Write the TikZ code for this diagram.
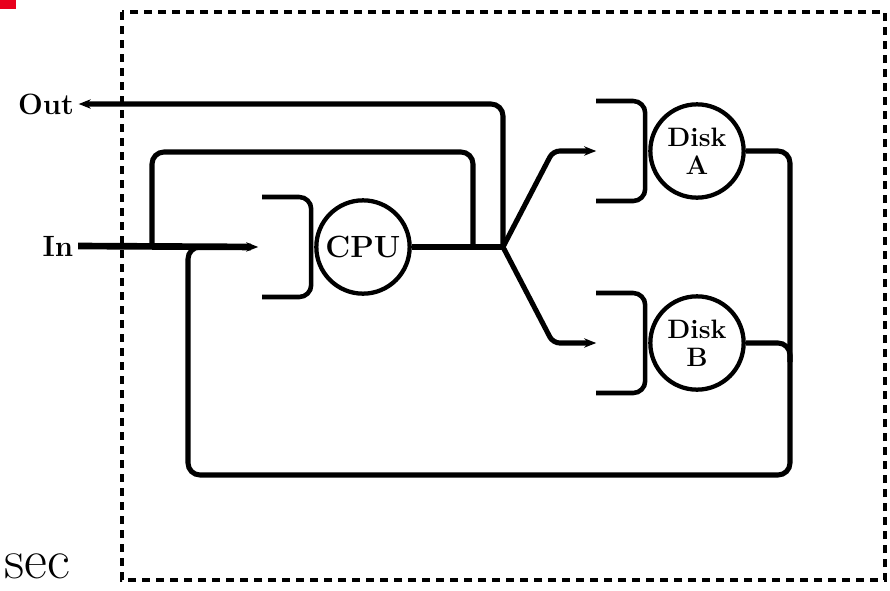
\documentclass[tikz,border=0pt]{standalone}
\usetikzlibrary{positioning,arrows.meta,calc}
\definecolor{slidered}{HTML}{E8001C}
\newcommand{\qbracket}[1]{%
  \draw[queue] ($(#1.west)+(-52,-50)$) -- ++(49,0) -- ++(0,100) -- ++(-49,0);}
\begin{document}
\begin{tikzpicture}[x=0.75pt, y=-0.75pt,
    every node/.style={font=\fontsize{22}{24}\selectfont\bfseries},
    server/.style={draw, circle, line width=3.2pt, minimum size=70pt,
                   inner sep=0pt, align=center,
                   font=\fontsize{20}{21}\selectfont\bfseries},
    queue/.style={line width=3.4pt, rounded corners=9pt},
    link/.style={line width=3.8pt, rounded corners=9pt},
    main/.style={line width=5pt},
    flow/.style={link, -{Stealth[length=9pt,width=7pt]}}]
  \useasboundingbox (0,0) rectangle (890,590);
  % slide leftovers
  \fill[slidered] (0,0) rectangle (16,9);
  \node[font=\fontsize{42}{42}\selectfont, anchor=base west, inner sep=0pt] (sec) at (4,578) {sec};
  % system boundary
  \draw[line width=3pt, dash pattern=on 6pt off 4.5pt] (122,12) rectangle (885,580);
  % terminals
  \node (out) at (46,104) {Out};
  \node (in) at (58,246) {In};
  % servers
  \node[server, font=\fontsize{23}{23}\selectfont\bfseries] (cpu) at (363,247) {CPU};
  \node[server] (diska) at (697,151) {Disk\\A};
  \node[server] (diskb) at (697,343) {Disk\\B};
  % queues
  \qbracket{cpu}
  \qbracket{diska}
  \qbracket{diskb}
  \coordinate (cpuin) at ($(cpu.west)+(-56,0)$);
  \coordinate (diskain) at ($(diska.west)+(-52,0)$);
  \coordinate (diskbin) at ($(diskb.west)+(-52,0)$);
  \coordinate (jn) at (503,247);
  \coordinate (fbr) at (473,247);
  \coordinate (fbl) at (152,247);
  \coordinate (back) at (205,247);
  % arrivals and CPU
  \draw[flow, line width=5pt] (in.east) -- (cpuin);
  \draw[main] (cpu.east) -- (jn);
  \draw[flow] (jn) |- (out.east);
  \draw[link] (fbr) -- ++(0,-95) -| (fbl);
  % to the disks
  \draw[flow, rounded corners=5pt] (jn) -- (553,151) -- (diskain);
  \draw[flow, rounded corners=5pt] (jn) -- (553,343) -- (diskbin);
  % back from the disks
  \draw[link] (diska.east) -| (790,475) -| (188,300) |- (back);
  \draw[link] (diskb.east) -| (790,362);
\end{tikzpicture}
\end{document}
